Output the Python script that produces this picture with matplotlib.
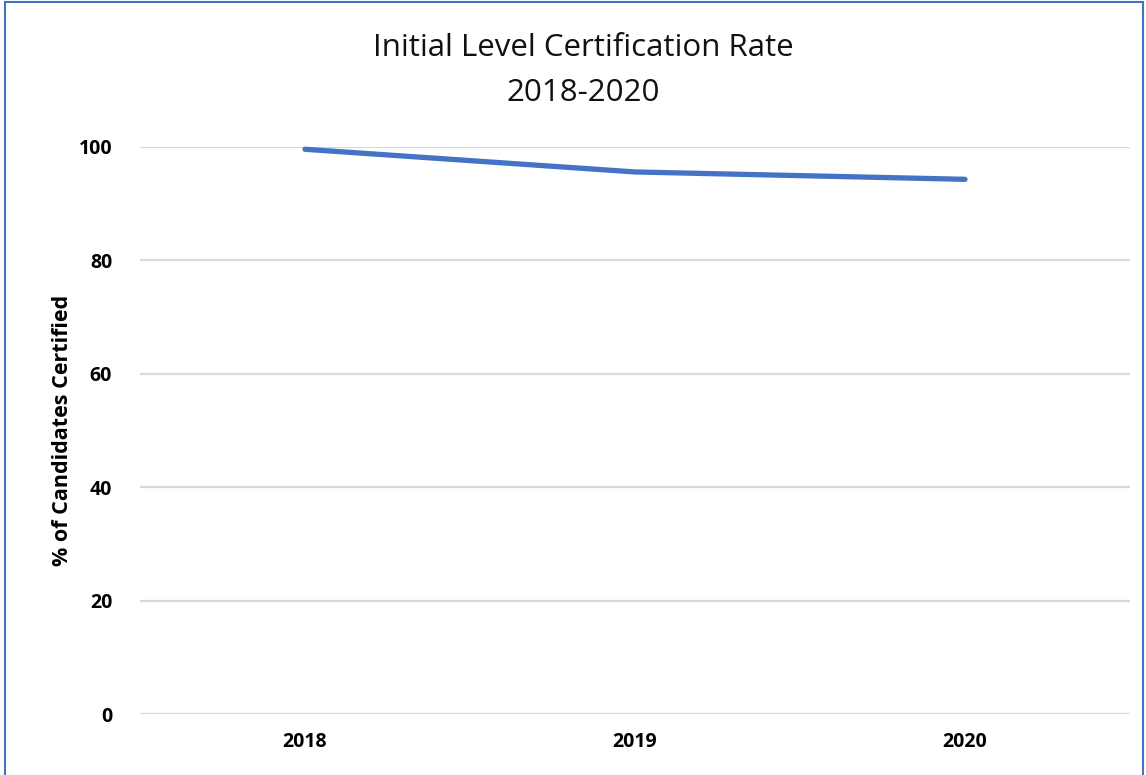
import matplotlib.pyplot as plt
from matplotlib.patches import Rectangle

# dados
anos = ['2018', '2019', '2020']
taxa_certificacao = [99.6, 95.6, 94.3]
y_ticks = [0, 20, 40, 60, 80, 100]

plt.rcParams['font.family'] = 'Open Sans'

fig = plt.figure(figsize=(11.46, 7.75), dpi=100)
ax = fig.add_axes([140 / 1146, 1 - 714 / 775, 990 / 1146, 567 / 775])

ax.plot(anos, taxa_certificacao, color='#4472C4', linewidth=3.8,
        solid_capstyle='round', clip_on=False, zorder=3)

ax.set_xlim(-0.5, 2.5)
ax.set_ylim(0, 100)
ax.set_yticks(y_ticks)
ax.grid(axis='y', color='#d9d9d9', linewidth=1.6)
ax.set_axisbelow(True)
for s in ax.spines.values():
    s.set_visible(False)
ax.tick_params(length=0, labelsize=14)
for lbl in ax.get_xticklabels() + ax.get_yticklabels():
    lbl.set_fontweight('bold')
ax.tick_params(axis='x', pad=13)
ax.tick_params(axis='y', pad=20)

ax.set_ylabel('% of Candidates Certified', fontsize=15.5, fontweight='bold', labelpad=4)

fig.text(583 / 1146, 1 - 48 / 775, 'Initial Level Certification Rate',
         ha='center', va='center', fontsize=22.5, color='#111111')
fig.text(583 / 1146, 1 - 93 / 775, '2018-2020',
         ha='center', va='center', fontsize=22.5, color='#111111')

# borda do gráfico
fig.patches.append(Rectangle((5 / 1146, -0.02), 1138 / 1146, 1.02 - 2 / 775,
                             transform=fig.transFigure, fill=False,
                             edgecolor='#4472C4', linewidth=1.5))

fig.savefig('out.png', dpi=100)
